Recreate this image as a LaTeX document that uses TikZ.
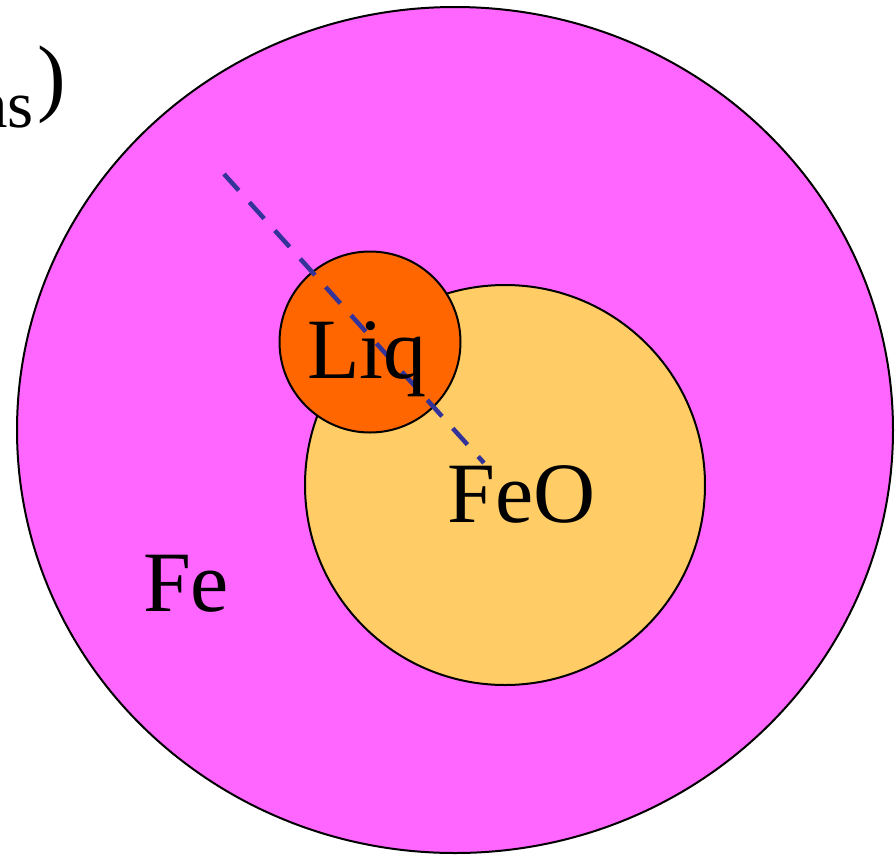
\documentclass[tikz,border=0pt]{standalone}
\usepackage{fontspec}
\setmainfont{Liberation Serif}
\definecolor{femag}{HTML}{FF66FF}
\definecolor{feo}{HTML}{FFCC66}
\definecolor{liq}{HTML}{FF6600}
\definecolor{dashblue}{HTML}{333399}
\tikzset{
  phase/.style={draw=black, line width=2pt},
  bigtext/.style={font=\fontsize{86}{100}\selectfont, inner sep=0pt},
  subtext/.style={font=\fontsize{67}{80}\selectfont, inner sep=0pt},
  tieline/.style={draw=dashblue, line width=4.5pt, dash pattern=on 22pt off 16pt}
}
\begin{document}
\begin{tikzpicture}[x=1pt,y=-1pt]
\useasboundingbox (0,0) rectangle (895,855);
\clip (0,0) rectangle (895,855);
\fill[white] (0,0) rectangle (895,855);
% big Fe region
\draw[phase, fill=femag] (455,430) ellipse [x radius=438, y radius=423];
% FeO region
\node[phase, fill=feo, circle, minimum size=400pt, inner sep=0pt] (feo) at (505,485) {};
% Liquid region
\node[phase, fill=liq, circle, minimum size=181pt, inner sep=0pt] (liq) at (370,342) {};
% tie line
\coordinate (t1) at (224,174);
\coordinate (t2) at (484,463);
\draw[tieline] (t1) -- (t2);
% labels
\node[bigtext, anchor=base] (liqlab) at (367,378) {Liq};
\node[bigtext, anchor=base] (feolab) at (522,522) {FeO};
\node[bigtext, anchor=base] (felab) at (186,611) {Fe};
\node[subtext, anchor=base east] (ns) at (34,127) {ns};
\node[bigtext, anchor=base west] (paren) at (37,105) {)};
\end{tikzpicture}
\end{document}
